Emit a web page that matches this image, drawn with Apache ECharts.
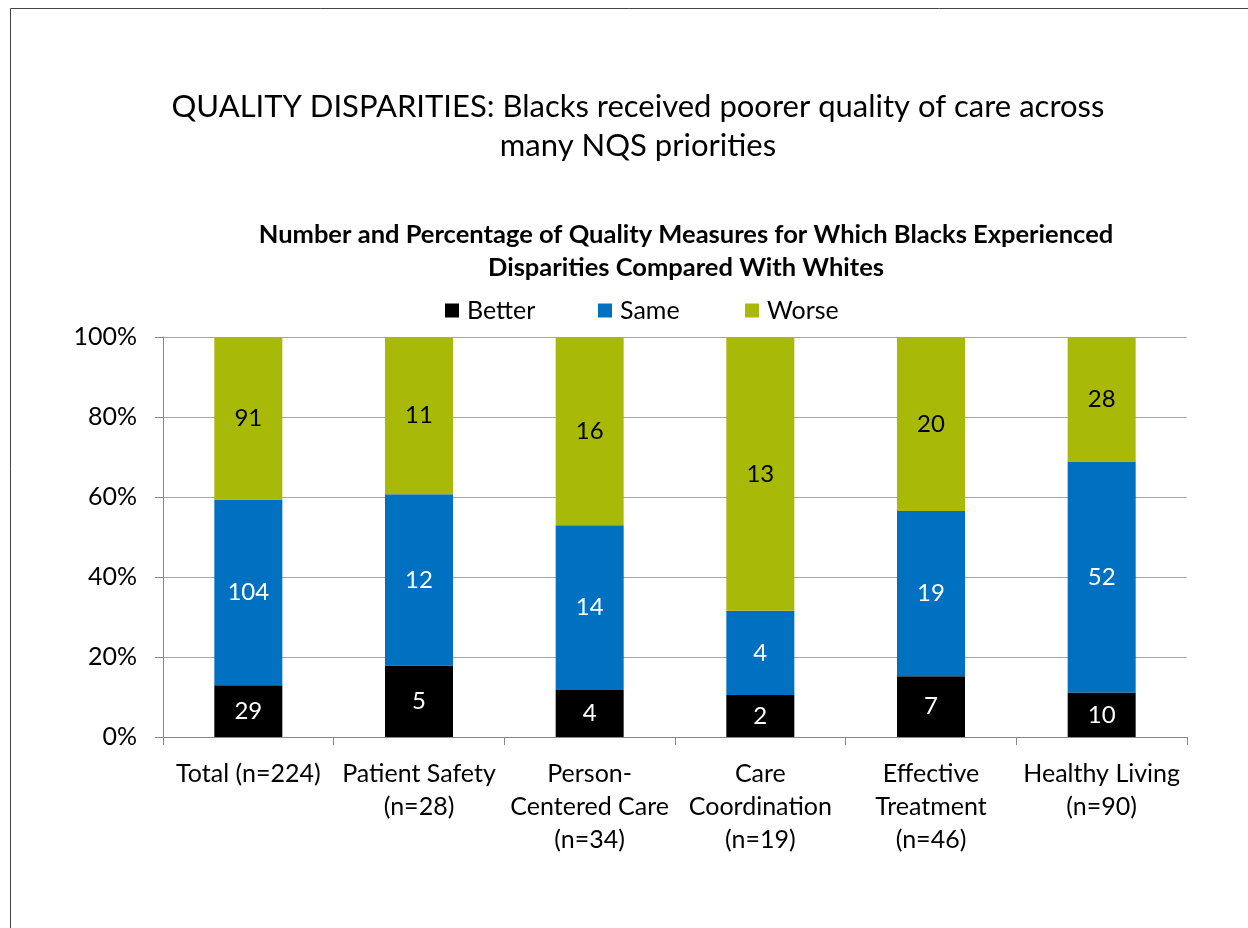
<!DOCTYPE html>
<html><head><meta charset="utf-8">
<script src="https://cdn.jsdelivr.net/npm/echarts@6/dist/echarts.min.js"></script>
<style>html,body{margin:0;padding:0;background:#fff}#c{width:1248px;height:928px}</style>
</head><body><div id="c"></div>
<script>
var categories = ['Total (n=224)', 'Patient Safety\n(n=28)', 'Person-\nCentered Care\n(n=34)', 'Care\nCoordination\n(n=19)', 'Effective\nTreatment\n(n=46)', 'Healthy Living\n(n=90)'];
var better = [29, 5, 4, 2, 7, 10];
var same = [104, 12, 14, 4, 19, 52];
var worse = [91, 11, 16, 13, 20, 28];
var yTicks = [0, 20, 40, 60, 80, 100];
var seriesNames = ['Better', 'Same', 'Worse'];

var FONT = 'Lato, "Open Sans", sans-serif';
function pct(arr, i) { return (arr[i] / (better[i] + same[i] + worse[i])) * 100; }
function mk(name, arr, color, labelColor) {
  return {
    name: name, type: 'bar', stack: 's', barWidth: 68,
    itemStyle: { color: color },
    data: arr.map(function (v, i) { return { value: pct(arr, i), count: v }; }),
    label: { show: true, position: 'inside', color: labelColor, fontSize: 24, fontFamily: FONT,
      formatter: function (p) { return p.data.count; } }
  };
}
var legendLefts = [445, 598, 745];
var chart = echarts.init(document.getElementById('c'), null, { renderer: 'canvas' });
chart.setOption({
  animation: false,
  backgroundColor: '#fff',
  graphic: [
    { type: 'rect', shape: { x: 10.5, y: 8.5, width: 1260, height: 940 }, style: { fill: 'none', stroke: '#444', lineWidth: 1 } }
  ],
  title: [{
    text: 'QUALITY DISPARITIES: Blacks received poorer quality of care across\nmany NQS priorities',
    left: 633, top: 82, textAlign: 'center',
    textStyle: { fontSize: 31, fontWeight: 'normal', fontFamily: FONT, color: '#000', lineHeight: 39 }
  }, {
    text: 'Number and Percentage of Quality Measures for Which Blacks Experienced\nDisparities Compared With Whites',
    left: 681, top: 213, textAlign: 'center',
    textStyle: { fontSize: 25.5, fontWeight: 'bold', fontFamily: FONT, color: '#000', lineHeight: 33 }
  }],
  legend: seriesNames.map(function (n, i) {
    return {
      top: 298, left: legendLefts[i], itemWidth: 14, itemHeight: 14, padding: 0,
      textStyle: { fontSize: 25, fontFamily: FONT, color: '#000', padding: [0, 0, 0, 3] },
      data: [n], icon: 'rect'
    };
  }),
  grid: { left: 163, right: 61, top: 337, bottom: 191, containLabel: false },
  xAxis: {
    type: 'category', data: categories,
    axisLine: { lineStyle: { color: '#888' } },
    axisTick: { show: true, length: 8, lineStyle: { color: '#888' } },
    axisLabel: { fontSize: 25, fontFamily: FONT, color: '#000', lineHeight: 33, margin: 20, interval: 0 }
  },
  yAxis: {
    type: 'value', min: 0, max: 100, interval: 20,
    axisLine: { show: true, lineStyle: { color: '#888' } },
    axisTick: { show: true, length: 8, lineStyle: { color: '#888' } },
    splitLine: { lineStyle: { color: '#a6a6a6' } },
    axisLabel: { fontSize: 25, fontFamily: FONT, color: '#000', margin: 26,
      formatter: function (v) { return yTicks.indexOf(v) >= 0 ? v + '%' : ''; } }
  },
  series: [
    mk('Better', better, '#000000', '#fff'),
    mk('Same', same, '#0070C0', '#fff'),
    mk('Worse', worse, '#A9B908', '#000')
  ]
});
</script></body></html>
